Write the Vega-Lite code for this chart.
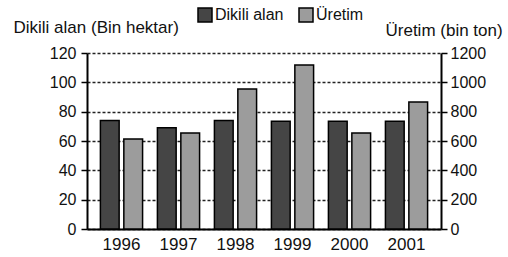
{
  "$schema": "https://vega.github.io/schema/vega-lite/v6.json",
  "width": 354,
  "height": 176,
  "autosize": {"type": "none"},
  "padding": {"left": 87, "top": 53, "right": 67, "bottom": 28},
  "background": "white",
  "config": {
    "view": {"stroke": null},
    "font": "Liberation Sans",
    "axis": {"labelColor": "#111", "titleColor": "#111", "domainColor": "#000", "tickColor": "#000"}
  },
  "data": {
    "values": [
      {"year": "1996", "series": "Dikili alan", "value": 74},
      {"year": "1997", "series": "Dikili alan", "value": 69},
      {"year": "1998", "series": "Dikili alan", "value": 74},
      {"year": "1999", "series": "Dikili alan", "value": 73.5},
      {"year": "2000", "series": "Dikili alan", "value": 73.5},
      {"year": "2001", "series": "Dikili alan", "value": 73.5},
      {"year": "1996", "series": "Üretim", "value": 614},
      {"year": "1997", "series": "Üretim", "value": 654},
      {"year": "1998", "series": "Üretim", "value": 954},
      {"year": "1999", "series": "Üretim", "value": 1118},
      {"year": "2000", "series": "Üretim", "value": 654},
      {"year": "2001", "series": "Üretim", "value": 866}
    ]
  },
  "encoding": {
    "x": {
      "field": "year", "type": "nominal",
      "scale": {"paddingInner": 0.26, "paddingOuter": 0.235},
      "axis": {"title": null, "labelAngle": 0, "ticks": false, "domainWidth": 2, "labelFontSize": 17, "labelPadding": 7}
    },
    "xOffset": {
      "field": "series", "type": "nominal",
      "scale": {"domain": ["Dikili alan", "Üretim"], "paddingInner": 0.2, "paddingOuter": 0}
    },
    "color": {
      "field": "series", "type": "nominal",
      "scale": {"domain": ["Dikili alan", "Üretim"], "range": ["#454545", "#9c9c9c"]},
      "legend": {
        "orient": "none", "legendX": 110, "legendY": -46, "direction": "horizontal",
        "title": null, "symbolType": "square", "symbolSize": 196,
        "symbolStrokeColor": "#000", "symbolStrokeWidth": 1.5,
        "labelFontSize": 16, "labelOffset": 2, "columnPadding": 12, "labelColor": "#111"
      }
    }
  },
  "layer": [
    {
      "transform": [{"filter": "datum.series == 'Dikili alan'"}],
      "mark": {"type": "bar", "stroke": "#000", "strokeWidth": 1.5},
      "encoding": {
        "y": {
          "field": "value", "type": "quantitative",
          "scale": {"domain": [0, 120]},
          "axis": {
            "orient": "left", "values": [0, 20, 40, 60, 80, 100, 120], "format": "d",
            "grid": true, "gridDash": [3, 2], "gridColor": "#222", "gridWidth": 1.3,
            "domainWidth": 2, "tickSize": 6, "tickWidth": 1.5,
            "labelFontSize": 16, "labelPadding": 5,
            "title": "Dikili alan (Bin hektar)", "titleAngle": 0, "titleX": -74, "titleY": -26,
            "titleAlign": "left", "titleBaseline": "middle", "titleFontSize": 17, "titleFontWeight": "normal"
          }
        }
      }
    },
    {
      "transform": [{"filter": "datum.series == 'Üretim'"}],
      "mark": {"type": "bar", "stroke": "#000", "strokeWidth": 1.5},
      "encoding": {
        "y": {
          "field": "value", "type": "quantitative",
          "scale": {"domain": [0, 1200]},
          "axis": {
            "orient": "right", "values": [0, 200, 400, 600, 800, 1000, 1200], "format": "d",
            "grid": false, "domainWidth": 2, "tickSize": 6, "tickWidth": 1.5,
            "labelFontSize": 16, "labelPadding": 3,
            "title": "Üretim (bin ton)", "titleAngle": 0, "titleX": -56, "titleY": -23,
            "titleAlign": "left", "titleBaseline": "middle", "titleFontSize": 17, "titleFontWeight": "normal"
          }
        }
      }
    }
  ],
  "resolve": {"scale": {"y": "independent"}}
}
